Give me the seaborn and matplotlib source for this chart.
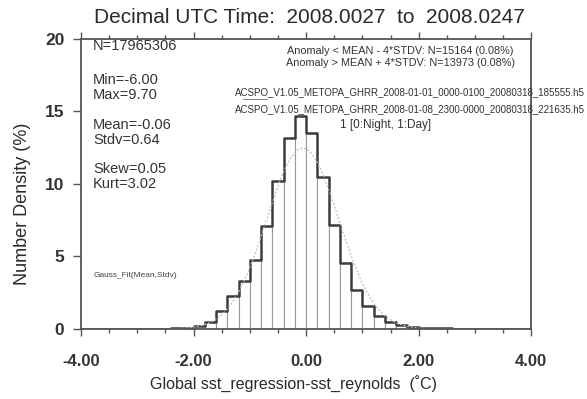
import numpy as np
import matplotlib
matplotlib.use("Agg")
import matplotlib.pyplot as plt
import seaborn as sns
from matplotlib.ticker import MultipleLocator

# histogram: 0.2-wide bins from -4 to 4, values in percent
bin_edges = [round(-4.0 + 0.2 * i, 1) for i in range(41)]
density_pct = [
    0.0, 0.0, 0.0, 0.0, 0.01, 0.01, 0.02, 0.03, 0.05, 0.1,      # -4.0 .. -2.2
    0.22, 0.48, 1.25, 2.25, 3.28, 4.78, 7.1, 10.2, 13.2, 14.7,  # -2.0 .. -0.2
    13.5, 10.5, 7.17, 4.55, 2.69, 1.57, 0.92, 0.47, 0.28, 0.16,  # 0.0 .. 1.8
    0.1, 0.06, 0.04, 0.02, 0.01, 0.01, 0.0, 0.0, 0.0, 0.0,      # 2.0 .. 3.8
]

# stats printed on the chart
n_total = 17965306
x_min, x_max = -6.00, 9.70
mean, stdv = -0.06, 0.64
skew, kurt = 0.05, 3.02

title = "Decimal UTC Time:  2008.0027  to  2008.0247"
files = [
    "ACSPO_V1.05_METOPA_GHRR_2008-01-01_0000-0100_20080318_185555.h5",
    "ACSPO_V1.05_METOPA_GHRR_2008-01-08_2300-0000_20080318_221635.h5",
]

sns.set_style("white")
plt.rcParams['font.family'] = ['Liberation Sans', 'DejaVu Sans']

fig = plt.figure(figsize=(5.87, 3.99), dpi=100)
ax = fig.add_axes([0.138, 0.1754, 0.767, 0.727])

centers = [(a + b) / 2 for a, b in zip(bin_edges[:-1], bin_edges[1:])]

# thin light bars, then heavy step outline
sns.histplot(x=centers, weights=density_pct, bins=bin_edges, element="bars",
             color="white", edgecolor="#9a9a9a", linewidth=0.8, alpha=1, ax=ax)
sns.histplot(x=centers, weights=density_pct, bins=bin_edges, element="step",
             fill=False, color="#3c3c3c", linewidth=1.8, ax=ax)

# gaussian fit from mean / stdv, scaled to a 0.2 bin in percent
xg = np.linspace(-4, 4, 400)
yg = 100 * 0.2 * np.exp(-(xg - mean) ** 2 / (2 * stdv ** 2)) / (stdv * np.sqrt(2 * np.pi))
sns.lineplot(x=xg, y=yg, color="#bdbdbd", linewidth=0.9, linestyle=(0, (1.5, 1.5)), ax=ax)

ax.set_xlim(-4, 4)
ax.set_ylim(0, 20)
ax.set_xticks([-4, -2, 0, 2, 4])
ax.set_xticklabels(["-4.00", "-2.00", "0.00", "2.00", "4.00"])
ax.xaxis.set_minor_locator(MultipleLocator(0.5))
ax.set_yticks([0, 5, 10, 15, 20])

frame_col = "#5b5353"
for s in ax.spines.values():
    s.set_color(frame_col)
    s.set_linewidth(1.3)

ax.tick_params(axis="x", which="both", direction="out", top=True, bottom=True,
               color=frame_col, width=1.0)
ax.tick_params(axis="x", which="major", length=5, pad=13, labelsize=12, labelcolor="#333333")
ax.tick_params(axis="x", which="minor", length=3)
ax.tick_params(axis="y", which="major", direction="out", left=True, length=6,
               color=frame_col, width=1.0, pad=6, labelsize=12.5, labelcolor="#333333")
for lab in ax.get_xticklabels() + ax.get_yticklabels():
    lab.set_fontweight("bold")

ax.set_xlabel("Global sst_regression-sst_reynolds  (\u02daC)", fontsize=11.5, color="#2a2a2a")
ax.xaxis.set_label_coords(0.471, -0.162)
ax.set_ylabel("Number Density (%)", fontsize=13, color="#2a2a2a")
ax.yaxis.label.set_va("center")
ax.yaxis.set_label_coords(-0.131, 0.431)
fig.text(0.527, 0.955, title, ha="center", va="center", fontsize=15, color="#2a2a2a")

# stats block on the left
stats = [
    (0.976, f"N={n_total}"),
    (0.858, f"Min={x_min:.2f}"),
    (0.808, f"Max={x_max:.2f}"),
    (0.702, f"Mean={mean:.2f}"),
    (0.652, f"Stdv={stdv:.2f}"),
    (0.552, f"Skew={skew:.2f}"),
    (0.500, f"Kurt={kurt:.2f}"),
]
for yy, txt in stats:
    ax.text(0.027, yy, txt, transform=ax.transAxes, fontsize=10.5, color="#333333", va="center")

ax.text(0.027, 0.185, "Gauss_Fit(Mean,Stdv)", transform=ax.transAxes,
        fontsize=6, color="#444444", va="center")

ax.text(0.71, 0.958, "Anomaly < MEAN - 4*STDV: N=15164 (0.08%)", transform=ax.transAxes,
        fontsize=7.8, color="#333333", ha="center", va="center")
ax.text(0.71, 0.917, "Anomaly > MEAN + 4*STDV: N=13973 (0.08%)", transform=ax.transAxes,
        fontsize=7.8, color="#333333", ha="center", va="center")

ax.text(0.342, 0.817, files[0], transform=ax.transAxes, fontsize=7,
        color="#333333", va="center", clip_on=False)
ax.text(0.342, 0.758, files[1], transform=ax.transAxes, fontsize=7,
        color="#333333", va="center", clip_on=False)
ax.plot([0.36, 0.413], [0.793, 0.793], transform=ax.transAxes, color="#888888", lw=0.8)
ax.text(0.576, 0.703, "1 [0:Night, 1:Day]", transform=ax.transAxes, fontsize=8.5,
        color="#333333", va="center")

fig.savefig("out.png", dpi=100, facecolor="white")
